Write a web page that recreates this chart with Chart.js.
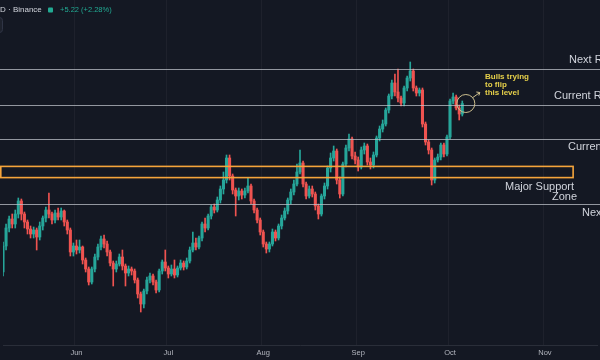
<!DOCTYPE html>
<html>
<head>
<meta charset="utf-8">
<script src="https://cdn.jsdelivr.net/npm/chart.js@4.4.0/dist/chart.umd.min.js"></script>
<style>
  html, body { margin: 0; padding: 0; background: #141823; overflow: hidden; }
  canvas { display: block; }
</style>
</head>
<body>
<canvas id="priceChart" width="600" height="360"></canvas>
<script>
// daily candles, first one is 2023-05-08
var opens = [150,163,172,176.5,174,179,185.5,179,175,171.5, 169,171,167.5,173,177,181,179,176,179.5,177.5,
  180.5,175,171,160,163,161,162.5,156,151.5,145, 151.5,157.5,162.5,166.5,164,160,154.5,151.5,154,157.5,
  153,149.5,151.5,150.5,146,139,134,140.5,146,148, 145,141,150.5,155,152,149,151.5,148.5,152,154.5,
  152.5,155.5,161,164.5,162.5,167,174,172,178,182.5, 181,186,191.5,196,207,198,191,188,190.5,188.5,
  190.5,193,185.5,181,176,170,164,161.5,164,170, 167,173,177,180.5,186,190,194,200,204.5,194,
  188,191.5,189,183,179,188,193,202,207,210.5, 196,189,204,212,216.5,208,206,202.5,211,213,
  205,203.5,208.5,217,221.5,224,231,238,244.5,240, 237,234.5,242,247,250.5,242,239.5,241,224,215,
  211,196,206,207.5,213.5,209,217.5,235.5,237.5,232, 229];
var highs = [165,174,178,179,181,187,186.5,180,176,173, 172.5,172,175,178,182.5,189.5,180,181,182,182,
  181,176,172,164.5,166,166,163,157,152.5,152.5, 159,164,168,168.5,165.5,161,155.5,155.5,159,161,
  154,153,152.5,151.5,147,140,141.5,147.5,149.5,149, 146,151.5,156,161,153,153.5,156,153,156,155.5,
  157,162.5,170,167,168,175,177,179,183.5,184, 187.5,193,200,208.5,208.5,199,192,192,191.5,192,
  197,194,186.5,182,177,171,165,165,171.5,171, 174,178.5,182,187,191.5,196,204,211,205.5,195,
  193,193,190,184,189,194.5,203,209.5,213,211.5, 197.5,205,213.5,219,217.5,210,207.5,212.5,214.5,214,
  207,210,218,223,226,232,239,246,249,251.5, 238,243,248,255,251.5,243,242,242,225,216,
  212,207,209,214.5,214.5,218.5,236.5,239.5,238.5,233.5, 235.5];
var lows = [148,161,170,172,172,177,176,172,169,167, 167,161,166,171,175,177,174,174.5,176,176,
  173,169,158,158,159,159.5,154,150,143.5,144, 150,156,161,162,158,153,143,150,153,151,
  143,148,148.5,144.5,137,130,132,139,144.5,143.5, 139.5,140,149,150.5,147,148,147,147.5,151,151,
  151.5,154.5,160,161,161.5,165.5,170,171,176.5,179.5, 180,184.5,189,194.5,196,189,178,186,186.5,187,
  189.5,184,179.5,174.5,168.5,162.5,159.5,160,163,165.5, 166,171.5,176,179,184,188.5,193,199,192.5,186.5,
  187,187.5,181,176.5,178,186.5,191.5,200,205.5,194, 187,188,202.5,210.5,206.5,204,200.5,201.5,209,203.5,
  201.5,202,207.5,215.5,220,223,229.5,236.5,238,235, 233,233,240.5,245.5,240.5,238,238,222.5,213.5,209,
  193.5,194.5,205,206,207.5,208,216.5,234,231,226, 228];
var closes = [163,172,176.5,174,179,185.5,179,175,171.5,169, 171,167.5,173,177,181,179,176,179.5,177.5,180.5,
  175,171,160,163,161,162.5,156,151.5,145,151.5, 157.5,162.5,166.5,164,160,154.5,151.5,154,157.5,153,
  149.5,151.5,150.5,146,139,134,140.5,146,148,145, 141,150.5,155,152,149,151.5,148.5,152,154.5,152.5,
  155.5,161,164.5,162.5,167,174,172,178,182.5,181, 186,191.5,196,207,198,191,188,190.5,188.5,190.5,
  193,185.5,181,176,170,164,161.5,164,170,167, 173,177,180.5,186,190,194,200,204.5,194,188,
  191.5,189,183,179,188,193,202,207,210.5,196, 189,204,212,216.5,208,206,202.5,211,213,205,
  203.5,208.5,217,221.5,224,231,238,244.5,240,237, 234.5,242,247,250.5,242,239.5,241,224,215,211,
  196,206,207.5,213.5,209,217.5,235.5,237.5,232,229, 234.22];

var monthNames = ['Jan','Feb','Mar','Apr','May','Jun','Jul','Aug','Sep','Oct','Nov','Dec'];

// drawn levels
var levelValues = [251.4, 233.5, 216.6, 184];
var levelNames = ['Next Resistance', 'Current Resistance', 'Current Support', 'Next Support'];
var zoneTop = 202.8, zoneBottom = 197.2, zoneEnd = 186.2;

// calendar: 195 days on the time axis
var days = [];
var start = Date.UTC(2023, 4, 8);
for (var i = 0; i < 195; i++) {
    days.push(new Date(start + i * 86400000).toISOString().slice(0, 10));
}

var upColor = '#26a69a';
var downColor = '#ef5350';
var candleColors = closes.map(function (c, i) { return c >= opens[i] ? upColor : downColor; });

var background = {
    id: 'background',
    beforeDraw: function (chart) {
        var c = chart.ctx;
        c.save();
        c.fillStyle = '#141823';
        c.fillRect(0, 0, chart.width, chart.height);
        c.restore();
    }
};

var drawings = {
    id: 'drawings',
    afterDatasetsDraw: function (chart) {
        var c = chart.ctx, xs = chart.scales.x, ys = chart.scales.y, W = chart.width;
        c.save();

        // horizontal levels
        c.strokeStyle = 'rgba(190,194,202,0.75)';
        c.lineWidth = 1;
        levelValues.forEach(function (v) {
            var y = Math.round(ys.getPixelForValue(v)) + 0.5;
            c.beginPath();
            c.moveTo(0, y);
            c.lineTo(W, y);
            c.stroke();
        });

        // support zone box
        var zt = ys.getPixelForValue(zoneTop), zb = ys.getPixelForValue(zoneBottom);
        var zr = xs.getPixelForValue(zoneEnd);
        c.strokeStyle = '#f5a43b';
        c.lineWidth = 1.6;
        c.strokeRect(0.8, zt, zr - 0.8, zb - zt);

        // level labels
        c.fillStyle = '#d1d4dc';
        c.font = '11px "Liberation Sans", Arial, sans-serif';
        c.textBaseline = 'middle';
        c.textAlign = 'left';
        c.fillText(levelNames[0], 569, ys.getPixelForValue(levelValues[0]) - 9);
        c.fillText(levelNames[1], 554, ys.getPixelForValue(levelValues[1]) - 9);
        c.fillText(levelNames[2], 568, ys.getPixelForValue(levelValues[2]) + 8.5);
        c.fillText('Major Support', 505, zb + 9.5);
        c.fillText('Zone', 552, zb + 19.5);
        c.fillText(levelNames[3], 582, ys.getPixelForValue(levelValues[3]) + 9);

        // circle + note on the last candles
        var cx = xs.getPixelForValue(closes.length) + 0.5;
        var cy = ys.getPixelForValue(levelValues[1]) - 1.5;
        c.strokeStyle = '#cdbf8e';
        c.lineWidth = 1;
        c.beginPath();
        c.arc(cx, cy, 9, 0, Math.PI * 2);
        c.stroke();
        c.beginPath();
        c.moveTo(cx + 7, cy - 6);
        c.lineTo(cx + 14, cy - 11);
        c.moveTo(cx + 10.5, cy - 11.5);
        c.lineTo(cx + 14, cy - 11);
        c.lineTo(cx + 13, cy - 8);
        c.stroke();

        c.fillStyle = '#e6d04a';
        c.font = 'bold 8px "Liberation Sans", Arial, sans-serif';
        c.fillText('Bulls trying', 485, 77);
        c.fillText('to flip', 485, 85);
        c.fillText('this level', 485, 93);
        c.restore();
    },
    afterDraw: function (chart) {
        var c = chart.ctx;
        c.save();
        // header
        c.fillStyle = '#1e222d';
        c.strokeStyle = '#2f3445';
        c.lineWidth = 1;
        c.beginPath();
        c.roundRect(-6, 17.5, 8.5, 15, 3);
        c.fill();
        c.stroke();

        c.textBaseline = 'middle';
        c.fillStyle = '#d1d4dc';
        c.font = '8px "Liberation Sans", Arial, sans-serif';
        c.fillText('D · Binance', 0, 10);
        c.fillStyle = '#22ab94';
        c.beginPath();
        c.roundRect(48, 7.5, 5, 5, 1);
        c.fill();
        c.font = '7.5px "Liberation Sans", Arial, sans-serif';
        c.fillText('+5.22 (+2.28%)', 60, 10);
        c.restore();
    }
};

var ctx = document.getElementById('priceChart').getContext('2d');
var priceChart = new Chart(ctx, {
    type: 'bar',
    data: {
        labels: days,
        datasets: [{
            label: 'body',
            data: opens.map(function (o, i) { return [o, closes[i]]; }),
            backgroundColor: candleColors,
            barThickness: 2.4,
            grouped: false,
            borderWidth: 0,
            borderSkipped: false,
            order: 0
        }, {
            label: 'wick',
            data: lows.map(function (l, i) { return [l, highs[i]]; }),
            backgroundColor: candleColors,
            barThickness: 1,
            grouped: false,
            borderWidth: 0,
            borderSkipped: false,
            order: 1
        }]
    },
    options: {
        responsive: false,
        devicePixelRatio: 1,
        animation: false,
        layout: { padding: 0 },
        plugins: {
            legend: { display: false },
            tooltip: { enabled: false }
        },
        scales: {
            x: {
                type: 'category',
                offset: false,
                grid: {
                    drawTicks: false,
                    color: function (c) {
                        var d = days[c.index] || '';
                        return d.slice(8) === '01' ? 'rgba(255,255,255,0.045)' : 'rgba(0,0,0,0)';
                    }
                },
                border: { color: '#2a2e39' },
                ticks: {
                    autoSkip: false,
                    maxRotation: 0,
                    padding: 3,
                    color: '#b2b5be',
                    font: { size: 7.5, family: '"Liberation Sans", Arial, sans-serif' },
                    callback: function (value, index) {
                        var d = days[index];
                        return d.slice(8) === '01' ? monthNames[parseInt(d.slice(5, 7), 10) - 1] : '';
                    }
                },
                afterFit: function (scale) { scale.height = 15; }
            },
            y: {
                display: false,
                min: 113.5,
                max: 286
            }
        }
    },
    plugins: [background, drawings]
});
</script>
</body>
</html>
